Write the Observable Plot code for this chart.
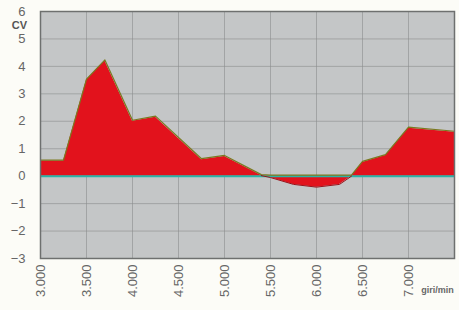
<!DOCTYPE html>
<html>
<head>
<meta charset="utf-8">
<script src="https://cdn.jsdelivr.net/npm/d3@7"></script>
<script src="https://cdn.jsdelivr.net/npm/@observablehq/plot@0.6"></script>
<style>
  html, body { margin: 0; padding: 0; background: #fcfcf7; }
  #chart { width: 459px; height: 310px; }
</style>
</head>
<body>
<div id="chart"></div>
<script>
const rpm = [3000, 3250, 3500, 3700, 4000, 4250, 4750, 5000, 5400, 5500, 5750, 6000, 6250, 6380, 6500, 6750, 7000, 7500];
const cv  = [0.55, 0.55, 3.5, 4.2, 2.0, 2.15, 0.6, 0.72, 0.02, -0.05, -0.3, -0.4, -0.3, 0.0, 0.5, 0.75, 1.75, 1.6];
const xTicks = [3000, 3500, 4000, 4500, 5000, 5500, 6000, 6500, 7000];
const yTicks = [-3, -2, -1, 0, 1, 2, 3, 4, 5, 6];
const yLabel = "CV";
const xLabel = "giri/min";

const data = rpm.map((r, i) => ({rpm: r, cv: cv[i]}));
const fmt = d => d3.format(",")(d).replace(/,/g, ".");

const chart = Plot.plot({
  width: 459,
  height: 310,
  marginLeft: 40,
  marginRight: 5,
  marginTop: 11,
  marginBottom: 52,
  style: {fontFamily: "Liberation Sans, Arial, sans-serif", background: "transparent", color: "#666"},
  x: {domain: [3000, 7500], ticks: xTicks, tickFormat: fmt, tickRotate: -90, tickSize: 0, tickPadding: 6, label: null},
  y: {domain: [-3, 6], ticks: yTicks, tickSize: 0, tickPadding: 15, label: null},
  marks: [
    Plot.frame({fill: "#c4c6c7"}),
    Plot.gridX(xTicks, {stroke: "#8c8e8e", strokeOpacity: 0.6}),
    Plot.gridY(yTicks, {stroke: "#8c8e8e", strokeOpacity: 0.6}),
    Plot.areaY(data, {x: "rpm", y: "cv", fill: "#e2121c"}),
    Plot.ruleY([0], {stroke: "#2bb3a6", strokeWidth: 2}),
    Plot.line(data, {x: "rpm", y: d => Math.max(d.cv, 0), stroke: "#7a7a20", strokeWidth: 1.2, dy: -1}),
    Plot.line(data.filter(d => d.rpm >= 5400 && d.rpm <= 6380), {x: "rpm", y: "cv", stroke: "#9a1018", strokeWidth: 1}),
    Plot.frame({stroke: "#6e706f", strokeWidth: 1.5}),
    Plot.axisX(xTicks, {tickFormat: fmt, tickRotate: -90, tickSize: 0, tickPadding: 6, fontSize: 13, fill: "#666", label: null}),
    Plot.axisY(yTicks, {tickSize: 0, tickPadding: 15, fontSize: 13, fill: "#666", label: null}),
    Plot.text([yLabel], {frameAnchor: "top-left", lineAnchor: "middle", dx: -21, dy: 13.5, fontSize: 11, fontWeight: "bold", fill: "#555", textAnchor: "middle"}),
    Plot.text([xLabel], {frameAnchor: "bottom-right", lineAnchor: "middle", dx: -17, dy: 32, fontSize: 9, fontWeight: "bold", fill: "#666", textAnchor: "middle"})
  ]
});
document.getElementById("chart").appendChild(chart);
</script>
</body>
</html>
